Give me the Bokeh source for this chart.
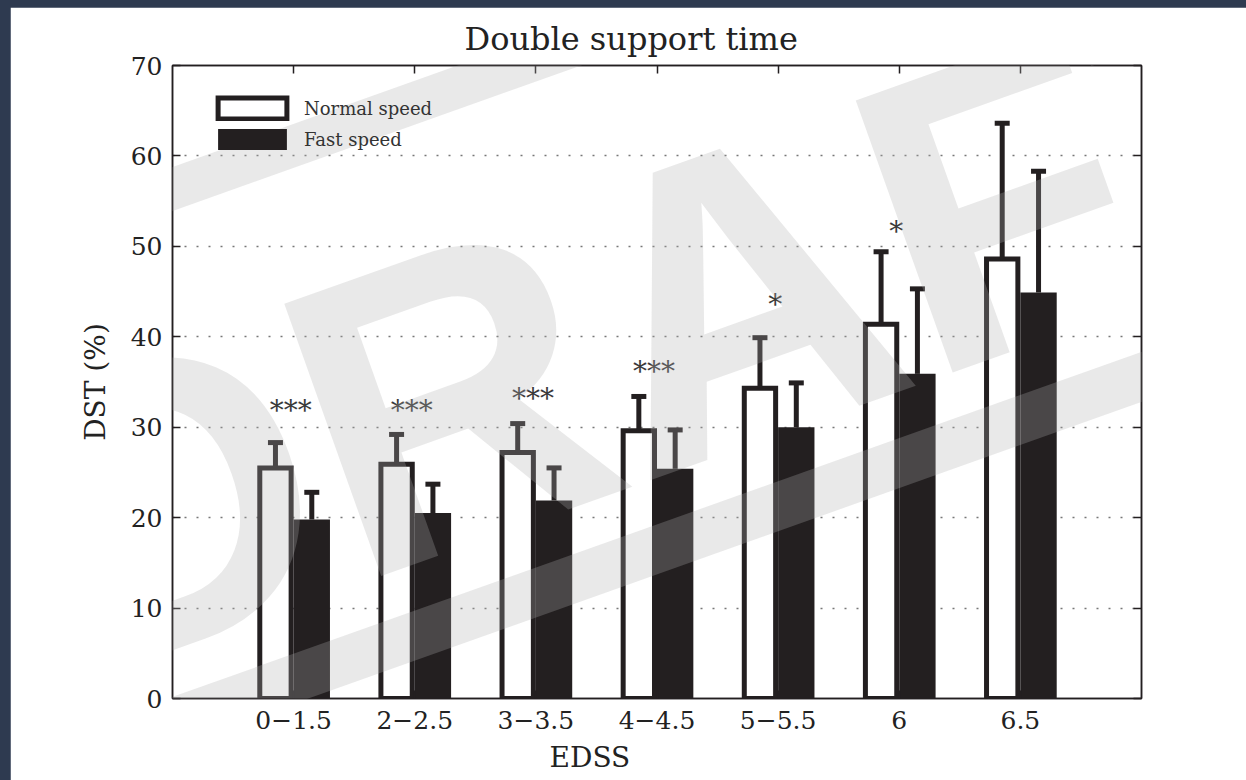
import numpy as np
from bokeh.plotting import figure
from bokeh.models import (Range1d, FixedTicker, LinearAxis, Whisker, TeeHead, Title,
                          ColumnDataSource, Legend, LegendItem, Label, PolyAnnotation)
from bokeh.layouts import column
from bokeh.embed import file_html
from bokeh.resources import INLINE
from bokeh.core.properties import value

# ---------------- data ----------------
categories = ["0\u22121.5", "2\u22122.5", "3\u22123.5", "4\u22124.5", "5\u22125.5", "6", "6.5"]
normal_mean = [25.5, 25.9, 27.2, 29.6, 34.3, 41.4, 48.6]
normal_upper = [28.3, 29.2, 30.4, 33.4, 39.9, 49.4, 63.6]
fast_mean = [19.8, 20.5, 21.9, 25.4, 30.0, 35.9, 44.9]
fast_upper = [22.8, 23.7, 25.5, 29.7, 34.9, 45.3, 58.3]
significance = ["***", "***", "***", "***", "*", "*", ""]
significance_y = [32.8, 32.8, 34.2, 37.2, 44.6, 52.6, 0.0]
y_ticks = [0, 10, 20, 30, 40, 50, 60, 70]
grid_ticks = [10, 20, 30, 40, 50, 60]

# ---------------- layout constants ----------------
W, H = 1236, 773
BL, BR, BT, BB = 162, 105, 58, 82
FW, FH = W - BL - BR, H - BT - BB
XMAX, YMAX = 8, 70
BAR_W = 0.3
INK = "#231f20"
SERIF = "DejaVu Serif"
OUTLINE_W = 5

xs = np.arange(1, len(categories) + 1)
px_per_x = FW / XMAX

src_n = ColumnDataSource(dict(x=xs - BAR_W / 2, top=normal_mean, upper=normal_upper, lower=normal_mean))
src_f = ColumnDataSource(dict(x=xs + BAR_W / 2, top=fast_mean, upper=fast_upper, lower=fast_mean))

p = figure(width=W, height=H, x_range=Range1d(0, XMAX), y_range=Range1d(0, YMAX),
           output_backend="svg", toolbar_location=None,
           min_border_left=BL, min_border_right=BR, min_border_top=BT, min_border_bottom=BB,
           background_fill_color="white", border_fill_color="white")
p.outline_line_color = INK
p.outline_line_width = 1.5

# title (left-aligned with an offset to match the original placement)
p.title.text = "Double support time"
p.title.align = "left"
p.title.offset = 292
p.title.text_font = SERIF
p.title.text_font_size = "32px"
p.title.text_font_style = "normal"
p.title.text_color = "#222222"
p.title.standoff = 16

# grid
p.xgrid.visible = False
p.ygrid.ticker = FixedTicker(ticks=grid_ticks)
p.ygrid.grid_line_color = "#777777"
p.ygrid.grid_line_dash = "2 10"
p.ygrid.grid_line_width = 1.5

# bars
r_n = p.vbar(x="x", top="top", bottom=0, width=BAR_W - OUTLINE_W / px_per_x, source=src_n,
             fill_color="white", line_color=INK, line_width=OUTLINE_W, line_join="miter")
r_f = p.vbar(x="x", top="top", bottom=0, width=BAR_W, source=src_f,
             fill_color=INK, line_color=None)

for s in (src_n, src_f):
    w = Whisker(base="x", upper="upper", lower="lower", source=s, dimension="height",
                line_color=INK, line_width=5, level="glyph",
                upper_head=TeeHead(size=15, line_width=5, line_color=INK), lower_head=None)
    p.add_layout(w)

# significance stars
p.text(x=xs, y=significance_y, text=significance, text_font=value(SERIF),
       text_font_size="28px", text_align="center", text_baseline="middle",
       text_color="#3a3a3a", y_offset=9, x_offset=-3)

# axes
ax_x = p.xaxis[0]
ax_x.ticker = FixedTicker(ticks=list(xs))
ax_x.major_label_overrides = {int(i): c for i, c in zip(xs, categories)}
ax_y = p.yaxis[0]
ax_y.ticker = FixedTicker(ticks=y_ticks)
for ax in (ax_x, ax_y):
    ax.axis_line_color = INK
    ax.axis_line_width = 1.5
    ax.major_tick_in = 8
    ax.major_tick_out = 0
    ax.major_tick_line_color = INK
    ax.major_tick_line_width = 1.5
    ax.minor_tick_line_color = None
    ax.major_label_text_font = SERIF
    ax.major_label_text_font_size = "25px"
    ax.major_label_text_color = "#222222"
    ax.axis_label_text_font = SERIF
    ax.axis_label_text_font_size = "28px"
    ax.axis_label_text_font_style = "normal"
    ax.axis_label_text_color = "#222222"
ax_x.major_label_standoff = 12
ax_y.major_label_standoff = 10
ax_y.axis_label = "DST (%)"
ax_y.axis_label_standoff = 16

top_ax = LinearAxis(ticker=FixedTicker(ticks=list(xs)),
                    major_label_overrides={int(i): "" for i in xs})
right_ax = LinearAxis(ticker=FixedTicker(ticks=y_ticks),
                      major_label_overrides={int(t): "" for t in y_ticks})
for ax in (top_ax, right_ax):
    ax.axis_line_color = INK
    ax.axis_line_width = 1.5
    ax.major_tick_in = 8
    ax.major_tick_out = 0
    ax.major_tick_line_color = INK
    ax.major_tick_line_width = 1.5
    ax.minor_tick_line_color = None
    ax.major_label_text_font_size = "1px"
    ax.major_label_standoff = 0
p.add_layout(top_ax, "above")
p.add_layout(right_ax, "right")

# x axis label as a title below the axis, shifted as in the original
xlab = Title(text="EDSS", align="left", offset=377, text_font=SERIF, text_font_size="28px",
             text_font_style="normal", text_color="#222222", standoff=14)
p.add_layout(xlab, "below")

# legend
legend = Legend(items=[LegendItem(label="Normal speed", renderers=[r_n]),
                       LegendItem(label="Fast speed", renderers=[r_f])],
                location=(37, FH - 30 - 57), glyph_width=86, glyph_height=26, spacing=5,
                padding=0, margin=0, label_standoff=9, label_text_font=SERIF,
                label_text_font_size="18px", label_text_color="#333333",
                background_fill_alpha=0, border_line_alpha=0)
p.add_layout(legend)

# page pixel -> data helpers (page has 10px left / 7px top frame)
def dx(px):
    return (px - 10 - BL) / px_per_x

def dy(py):
    return (BT + FH + 7 - py) / (FH / YMAX)

# DRAFT watermark
WM = "#b0b0b0"
WA = 0.28
slope = 0.356
angle = float(np.arctan(slope))

def band(c0, half):
    xa, xb = 0, 1246
    ys_top = [c0 - slope * xa - half, c0 - slope * xb - half]
    ys_bot = [c0 - slope * xb + half, c0 - slope * xa + half]
    return ([dx(xa), dx(xb), dx(xb), dx(xa)], [dy(ys_top[0]), dy(ys_top[1]), dy(ys_bot[0]), dy(ys_bot[1])])

for c0, half in ((249.7, 22), (782.6, 25)):
    bx, by = band(c0, half)
    p.add_layout(PolyAnnotation(xs=bx, ys=by, fill_color=WM, fill_alpha=WA,
                                line_color=None, level="overlay"))

p.add_layout(Label(x=dx(690), y=dy(311), text="DRAFT", angle=angle, text_font="Liberation Sans",
                   text_font_style="bold", text_font_size="420px", text_align="center",
                   text_baseline="middle", text_color=WM, text_alpha=WA, level="overlay"))

layout = column(p, styles={"background-color": "#2e3a50", "padding": "7px 0px 0px 10px"})
open("out.html", "w").write(file_html(layout, INLINE))
